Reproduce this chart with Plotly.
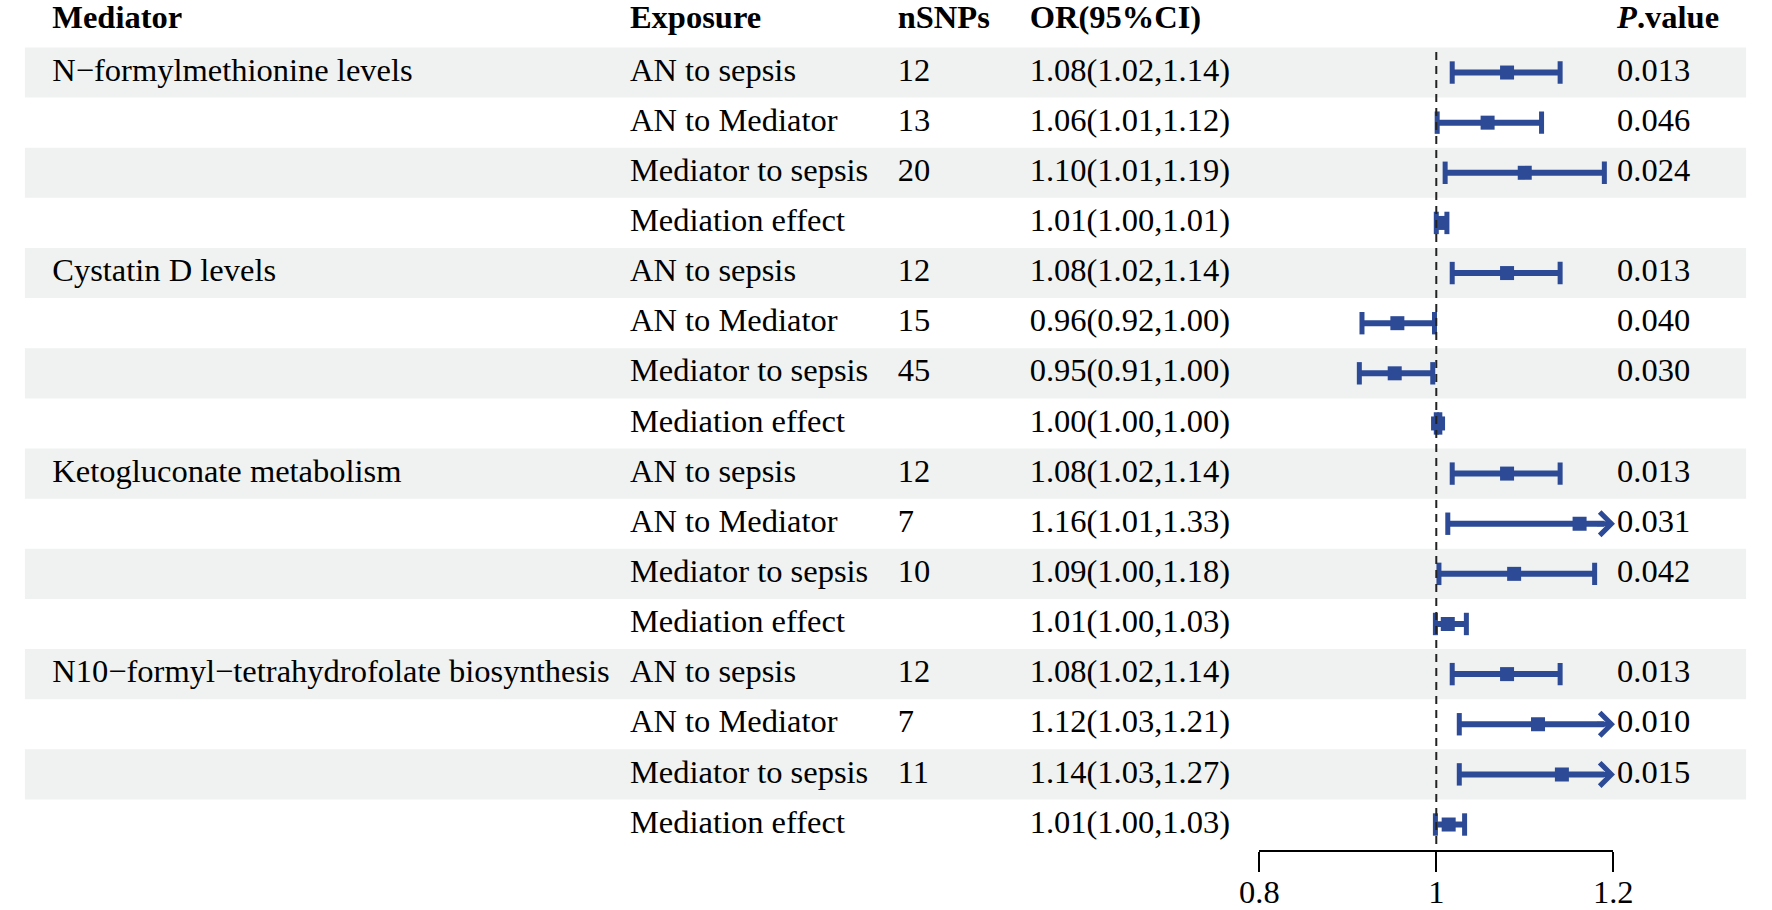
import plotly.graph_objects as go

# table data
mediator = ["N\u2212formylmethionine levels", "", "", "",
            "Cystatin D levels", "", "", "",
            "Ketogluconate metabolism", "", "", "",
            "N10\u2212formyl\u2212tetrahydrofolate biosynthesis", "", "", ""]
exposure = ["AN to sepsis", "AN to Mediator", "Mediator to sepsis", "Mediation effect"] * 4
nsnps = ["12", "13", "20", "",
         "12", "15", "45", "",
         "12", "7", "10", "",
         "12", "7", "11", ""]
or_text = ["1.08(1.02,1.14)", "1.06(1.01,1.12)", "1.10(1.01,1.19)", "1.01(1.00,1.01)",
           "1.08(1.02,1.14)", "0.96(0.92,1.00)", "0.95(0.91,1.00)", "1.00(1.00,1.00)",
           "1.08(1.02,1.14)", "1.16(1.01,1.33)", "1.09(1.00,1.18)", "1.01(1.00,1.03)",
           "1.08(1.02,1.14)", "1.12(1.03,1.21)", "1.14(1.03,1.27)", "1.01(1.00,1.03)"]
pval = ["0.013", "0.046", "0.024", "",
        "0.013", "0.040", "0.030", "",
        "0.013", "0.031", "0.042", "",
        "0.013", "0.010", "0.015", ""]

# plotted estimates (read from the drawn marks)
est = [1.080, 1.058, 1.100, 1.006,
       1.080, 0.956, 0.953, 1.002,
       1.080, 1.162, 1.088, 1.013,
       1.080, 1.115, 1.142, 1.014]
low = [1.018, 1.001, 1.010, 1.000,
       1.018, 0.916, 0.913, 1.000,
       1.018, 1.013, 1.003, 0.999,
       1.018, 1.026, 1.026, 0.999]
upp = [1.140, 1.119, 1.190, 1.012,
       1.140, 0.998, 0.996, 1.004,
       1.140, 1.330, 1.179, 1.034,
       1.140, 1.210, 1.270, 1.032]

headers = ["<b>Mediator</b>", "<b>Exposure</b>", "<b>nSNPs</b>",
           "<b>OR(95%CI)</b>", "<b><i>P</i>.value</b>"]

W, H = 1772, 910
XMIN, XMAX = 0.8, 1.2
BLUE = "#2D4A96"
FONT = "Liberation Serif"
FS = 32.5
col_x = [33, 624, 898, 1033, 1634]      # pixel x of each column
ROW_H = 50.25
ROW1 = 72.7                             # pixel y of first row centre
AXIS_Y = 852                            # pixel y of the x axis line


def row_at(py):
    return 1 + (py - ROW1) / ROW_H


rows = list(range(1, len(est) + 1))

fig = go.Figure()

# text columns
for cx, col in zip(col_x, [mediator, exposure, nsnps, or_text, pval]):
    fig.add_trace(go.Scatter(
        x=[cx] * len(rows), y=rows, mode="text", text=col,
        textposition="middle right", textfont=dict(family=FONT, size=FS, color="black"),
        cliponaxis=False, hoverinfo="skip", showlegend=False))
fig.add_trace(go.Scatter(
    x=col_x, y=[row_at(19.5)] * len(col_x), mode="text", text=headers,
    textposition="middle right", textfont=dict(family=FONT, size=FS, color="black"),
    cliponaxis=False, hoverinfo="skip", showlegend=False))

# CI segments, clipped at the axis limit
seg_x, seg_y, cap_x, cap_y = [], [], [], []
arrows = []
for r, lo, hi in zip(rows, low, upp):
    if hi > XMAX:
        seg_x += [lo, XMAX - 0.01, None]
        arrows.append(r)
        cap_x.append(lo)
        cap_y.append(r)
    else:
        seg_x += [lo, hi, None]
        cap_x += [lo, hi]
        cap_y += [r, r]
    seg_y += [r, r, None]

fig.add_trace(go.Scatter(
    x=seg_x, y=seg_y, mode="lines", xaxis="x2",
    line=dict(color=BLUE, width=6), showlegend=False, hoverinfo="skip"))
fig.add_trace(go.Scatter(
    x=cap_x, y=cap_y, mode="markers", xaxis="x2",
    marker=dict(symbol="line-ns", size=16, line=dict(color=BLUE, width=5)),
    showlegend=False, hoverinfo="skip"))
fig.add_trace(go.Scatter(
    x=est, y=rows, mode="markers", xaxis="x2",
    marker=dict(symbol="square", size=14, color=BLUE),
    text=or_text, hovertemplate="%{text}<extra></extra>", showlegend=False))

for r in arrows:
    fig.add_annotation(
        x=XMAX + 0.002, y=r, ax=XMAX - 0.02, ay=r, xref="x2", yref="y",
        axref="x2", ayref="y", showarrow=True, arrowhead=4, arrowsize=0.9,
        arrowwidth=5, arrowcolor=BLUE, text="")

# zebra stripes
for r in rows[::2]:
    fig.add_shape(type="rect", xref="x", yref="y",
                  x0=5, x1=1766, y0=r - 0.5, y1=r + 0.5,
                  fillcolor="#EFF2F1", line_width=0, layer="below")

# reference line at OR = 1
fig.add_shape(type="line", xref="x2", yref="y", x0=1, x1=1, y0=row_at(52), y1=row_at(AXIS_Y),
              line=dict(color="#222222", width=2, dash="8px,6px"))

fig.update_layout(
    width=W, height=H,
    margin=dict(l=0, r=0, t=0, b=H - AXIS_Y),
    paper_bgcolor="white", plot_bgcolor="rgba(0,0,0,0)",
    xaxis=dict(range=[0, W], domain=[0, 1], visible=False, fixedrange=True),
    xaxis2=dict(range=[XMIN, XMAX], domain=[1268 / W, 1630 / W], anchor="y",
                showline=True, linecolor="black", linewidth=1.5,
                ticks="outside", ticklen=20, tickwidth=1.5, tickcolor="black",
                ticklabelstandoff=-8,
                tickvals=[0.8, 1, 1.2], ticktext=["0.8", "1", "1.2"],
                tickfont=dict(family=FONT, size=FS, color="black"),
                showgrid=False, zeroline=False),
    yaxis=dict(range=[row_at(AXIS_Y), row_at(0)], visible=False, fixedrange=True),
    font=dict(family=FONT),
)

# drop the default page margin so the figure sits at the window corner
fig.write_html("out.html", config={"displayModeBar": False},
               post_script="document.body.style.margin='0';")
